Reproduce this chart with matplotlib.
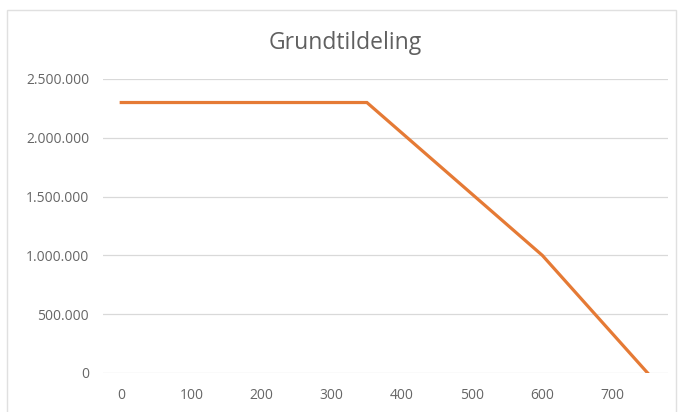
import matplotlib
matplotlib.use("Agg")
import matplotlib.pyplot as plt
from matplotlib.ticker import FuncFormatter
from matplotlib.patches import Rectangle

# Data
x_vals = [0, 350, 600, 750]
y_vals = [2300000, 2300000, 1000000, 0]
x_ticks = [0, 100, 200, 300, 400, 500, 600, 700]
y_ticks = [0, 500000, 1000000, 1500000, 2000000, 2500000]

plt.rcParams['font.family'] = ['Open Sans', 'DejaVu Sans']

fig = plt.figure(figsize=(6.81, 4.12), dpi=100)
ax = fig.add_axes([103/681, 39/412, 565/681, 294/412])

ax.plot(x_vals, y_vals, color="#E57A35", linewidth=2.3, solid_joinstyle="miter")

ax.set_xlim(-26, 779)
ax.set_ylim(0, 2500000)
ax.set_xticks(x_ticks)
ax.set_yticks(y_ticks)
ax.yaxis.set_major_formatter(FuncFormatter(lambda v, p: f"{int(v):,}".replace(",", ".")))

ax.grid(axis="y", color="#d9d9d9", linewidth=0.9)
ax.set_axisbelow(True)
for s in ax.spines.values():
    s.set_visible(False)
ax.tick_params(length=0, colors="#666666", labelsize=10, pad=11)
ax.tick_params(axis="y", pad=10)

fig.text(345/681, 1 - 43/412, "Grundtildeling", ha="center", va="center",
         fontsize=16.5, color="#606060")

# chart border
fig.patches.append(Rectangle((7/681, -0.02), 669/681, 1 - 10/412 + 0.02,
                             transform=fig.transFigure, fill=False,
                             edgecolor="#e0e0e0", linewidth=1))

fig.savefig("out.png", dpi=100)
